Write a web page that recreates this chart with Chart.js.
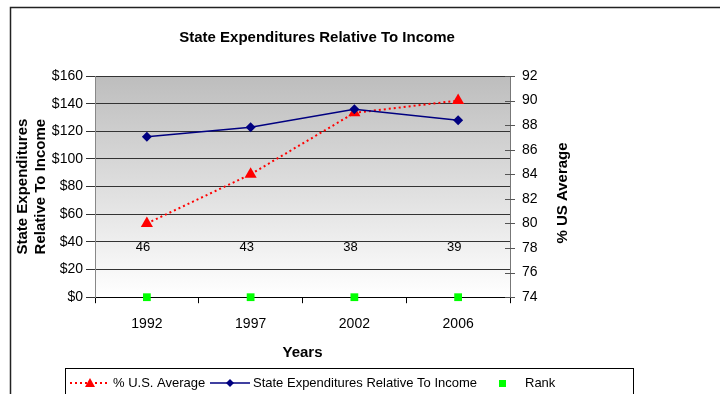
<!DOCTYPE html>
<html>
<head>
<meta charset="utf-8">
<script src="https://cdn.jsdelivr.net/npm/chart.js@4"></script>
<style>
  html, body { margin: 0; padding: 0; background: #fff; }
  #wrap { width: 720px; height: 394px; position: relative; }
</style>
</head>
<body>
<div id="wrap"><canvas id="chart" width="720" height="394"></canvas></div>
<script>
// data
const years = ["1992", "1997", "2002", "2006"];
const pctUsAverage = [80, 84, 89, 90];
const stateExpenditures = [116, 123, 136, 128];
const rankValues = [46, 43, 38, 39];
const rankPlotY = [0, 0, 0, 0];

const FONT = "'Liberation Sans', Arial, sans-serif";

// gradient fill behind the plot area
const plotBackground = {
  id: "plotBackground",
  beforeDraw(chart) {
    const { ctx, chartArea: a } = chart;
    const g = ctx.createLinearGradient(0, a.top, 0, a.bottom);
    g.addColorStop(0, "#bdbdbd");
    g.addColorStop(1, "#ffffff");
    ctx.save();
    ctx.fillStyle = g;
    ctx.fillRect(a.left, a.top, a.right - a.left, a.bottom - a.top);
    ctx.restore();
  },
};

// frame, title, rank labels, right axis bits and the legend box
const extras = {
  id: "extras",
  afterDraw(chart) {
    const { ctx, chartArea: a } = chart;
    ctx.save();
    // chart frame (cut off on the right and bottom)
    ctx.strokeStyle = "#222";
    ctx.lineWidth = 1.5;
    ctx.beginPath();
    ctx.moveTo(10.5, 400);
    ctx.lineTo(10.5, 7.5);
    ctx.lineTo(722, 7.5);
    ctx.stroke();

    // chart title
    ctx.fillStyle = "#000";
    ctx.font = "bold 15px " + FONT;
    ctx.textAlign = "center";
    ctx.textBaseline = "middle";
    ctx.fillText("State Expenditures Relative To Income", 317, 38);

    // rank data labels
    const meta = chart.getDatasetMeta(2);
    ctx.font = "13px " + FONT;
    meta.data.forEach((pt, i) => {
      ctx.fillText(String(rankValues[i]), pt.x - 4, pt.y - 50);
    });

    // right axis title, reading bottom to top
    ctx.save();
    ctx.translate(563, 193);
    ctx.rotate(-Math.PI / 2);
    ctx.font = "bold 15px " + FONT;
    ctx.fillText("% US Average", 0, 0);
    ctx.restore();

    // right axis tick marks crossing the axis line
    const y2 = chart.scales.y2;
    ctx.strokeStyle = "#555";
    ctx.lineWidth = 1;
    y2.ticks.forEach((t) => {
      const py = Math.round(y2.getPixelForValue(t.value)) + 0.5;
      ctx.beginPath();
      ctx.moveTo(a.right - 5, py);
      ctx.lineTo(a.right + 5, py);
      ctx.stroke();
    });

    // legend
    const lx = 65.5, ly = 368.5, lw = 568, cy = 383;
    ctx.strokeStyle = "#000";
    ctx.lineWidth = 1;
    ctx.strokeRect(lx, ly, lw, 40);

    ctx.font = "13px " + FONT;
    ctx.textAlign = "left";

    // % U.S. Average
    ctx.strokeStyle = "#ff0000";
    ctx.lineWidth = 2;
    ctx.setLineDash([2, 3]);
    ctx.beginPath();
    ctx.moveTo(70, cy);
    ctx.lineTo(108, cy);
    ctx.stroke();
    ctx.setLineDash([]);
    ctx.fillStyle = "#ff0000";
    ctx.beginPath();
    ctx.moveTo(90, cy - 5);
    ctx.lineTo(95, cy + 4);
    ctx.lineTo(85, cy + 4);
    ctx.closePath();
    ctx.fill();
    ctx.fillStyle = "#000";
    ctx.fillText("% U.S. Average", 113, cy);

    // State Expenditures
    ctx.strokeStyle = "#000080";
    ctx.lineWidth = 1.5;
    ctx.beginPath();
    ctx.moveTo(210, cy);
    ctx.lineTo(250, cy);
    ctx.stroke();
    ctx.fillStyle = "#000080";
    ctx.beginPath();
    ctx.moveTo(230, cy - 4);
    ctx.lineTo(234, cy);
    ctx.lineTo(230, cy + 4);
    ctx.lineTo(226, cy);
    ctx.closePath();
    ctx.fill();
    ctx.fillStyle = "#000";
    ctx.fillText("State Expenditures Relative To Income", 253, cy);

    // Rank
    ctx.fillStyle = "#00ff00";
    ctx.fillRect(499, cy - 3, 7, 7);
    ctx.fillStyle = "#000";
    ctx.fillText("Rank", 525, cy);
    ctx.restore();
  },
};

new Chart(document.getElementById("chart"), {
  data: {
    labels: years,
    datasets: [
      {
        type: "line",
        label: "% U.S. Average",
        data: pctUsAverage,
        yAxisID: "y2",
        borderColor: "#ff0000",
        backgroundColor: "#ff0000",
        borderWidth: 2,
        borderDash: [2, 3],
        pointStyle: "triangle",
        pointRadius: 7,
        pointBorderWidth: 0,
        order: 2,
      },
      {
        type: "line",
        label: "State Expenditures Relative To Income",
        data: stateExpenditures,
        yAxisID: "y",
        borderColor: "#000080",
        backgroundColor: "#000080",
        borderWidth: 1.5,
        pointStyle: "rectRot",
        pointRadius: 5,
        pointBorderWidth: 0,
        order: 1,
      },
      {
        type: "line",
        label: "Rank",
        data: rankPlotY,
        yAxisID: "y",
        showLine: false,
        borderColor: "#00ff00",
        backgroundColor: "#00ff00",
        pointStyle: "rect",
        pointRadius: 5.5,
        pointBorderWidth: 0,
        clip: false,
        order: 0,
      },
    ],
  },
  options: {
    responsive: false,
    animation: false,
    layout: { padding: { left: 14, right: 0, top: 76, bottom: 32 } },
    plugins: {
      legend: { display: false },
      tooltip: { enabled: false },
      title: { display: false },
    },
    scales: {
      x: {
        offset: true,
        grid: {
          offset: true,
          drawOnChartArea: false,
          tickLength: 6,
          color: "#000",
        },
        border: { color: "#000" },
        ticks: { color: "#000", font: { family: FONT, size: 14 }, padding: 13 },
        title: {
          display: true,
          text: "Years",
          color: "#000",
          font: { family: FONT, size: 15, weight: "bold" },
          padding: { top: -2, bottom: 0 },
        },
      },
      y: {
        position: "left",
        min: 0,
        max: 160,
        afterFit: (s) => { s.width = 81; },
        ticks: {
          stepSize: 20,
          color: "#000",
          font: { family: FONT, size: 14 },
          padding: 3,
          callback: (v) => "$" + v,
        },
        grid: { color: "#333", tickLength: 9 },
        border: { color: "#888" },
        title: {
          display: true,
          text: ["State Expenditures", "Relative To Income"],
          color: "#000",
          font: { family: FONT, size: 15, weight: "bold" },
          padding: { top: 0, bottom: 4 },
        },
      },
      y2: {
        position: "right",
        min: 74,
        max: 92,
        afterFit: (s) => { s.width = 210; },
        ticks: {
          stepSize: 2,
          color: "#000",
          font: { family: FONT, size: 14 },
          padding: 12,
        },
        grid: { drawOnChartArea: false, drawTicks: false },
        border: { color: "#777" },
        title: { display: false },
      },
    },
  },
  plugins: [plotBackground, extras],
});
</script>
</body>
</html>
